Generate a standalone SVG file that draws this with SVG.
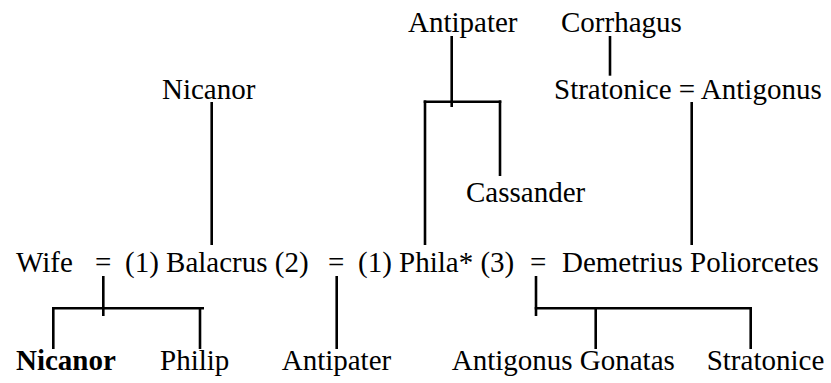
<svg xmlns="http://www.w3.org/2000/svg" width="831" height="383" viewBox="0 0 831 383">
<style>
.t text{font-size:29px;fill:#000}
.b{font-weight:bold}
.c line{stroke:#000;stroke-width:2.6}
</style>
<rect width="831" height="383" fill="#fff"/>
<g class="c" id="connectors">
<line x1="211.7" y1="102" x2="211.7" y2="245"/>
<line x1="451.7" y1="36" x2="451.7" y2="107"/>
<line x1="423.7" y1="101.7" x2="501.3" y2="101.7"/>
<line x1="425" y1="100.4" x2="425" y2="245"/>
<line x1="500" y1="100.4" x2="500" y2="176"/>
<line x1="610" y1="36" x2="610" y2="75.7"/>
<line x1="691.7" y1="102" x2="691.7" y2="245"/>
<line x1="103.3" y1="276" x2="103.3" y2="316"/>
<line x1="52" y1="308.3" x2="204" y2="308.3"/>
<line x1="53.3" y1="307" x2="53.3" y2="349"/>
<line x1="200" y1="307" x2="200" y2="349"/>
<line x1="336.7" y1="276" x2="336.7" y2="349"/>
<line x1="536" y1="276" x2="536" y2="316"/>
<line x1="534.7" y1="308.3" x2="752" y2="308.3"/>
<line x1="595.7" y1="307" x2="595.7" y2="349"/>
<line x1="750.7" y1="307" x2="750.7" y2="349"/>
</g>
<g class="t" font-family="'Liberation Serif', 'Times New Roman', serif">
<g id="nicanor-top"><text x="162" y="98.5">Nicanor</text></g>
<g id="antipater-top"><text x="408" y="32">Antipater</text></g>
<g id="corrhagus"><text x="561" y="32">Corrhagus</text></g>
<g id="stratonice-antigonus"><text x="554" y="98.5">Stratonice = Antigonus</text></g>
<g id="cassander"><text x="466" y="201.7">Cassander</text></g>
<g id="wife"><text x="16" y="271.7">Wife</text></g>
<g id="eq1"><text x="95" y="271.7">=</text></g>
<g id="balacrus"><text x="125" y="271.7">(1) Balacrus (2)</text></g>
<g id="eq2"><text x="328" y="271.7">=</text></g>
<g id="phila"><text x="358" y="271.7">(1) Phila* (3)</text></g>
<g id="eq3"><text x="530" y="271.7">=</text></g>
<g id="demetrius"><text x="562" y="271.7">Demetrius Poliorcetes</text></g>
<g id="nicanor"><text class="b" x="16" y="370">Nicanor</text></g>
<g id="philip"><text x="160" y="370">Philip</text></g>
<g id="antipater"><text x="281.7" y="370">Antipater</text></g>
<g id="antigonus-gonatas"><text x="451.7" y="370">Antigonus Gonatas</text></g>
<g id="stratonice"><text x="706.7" y="370">Stratonice</text></g>
</g>
</svg>
